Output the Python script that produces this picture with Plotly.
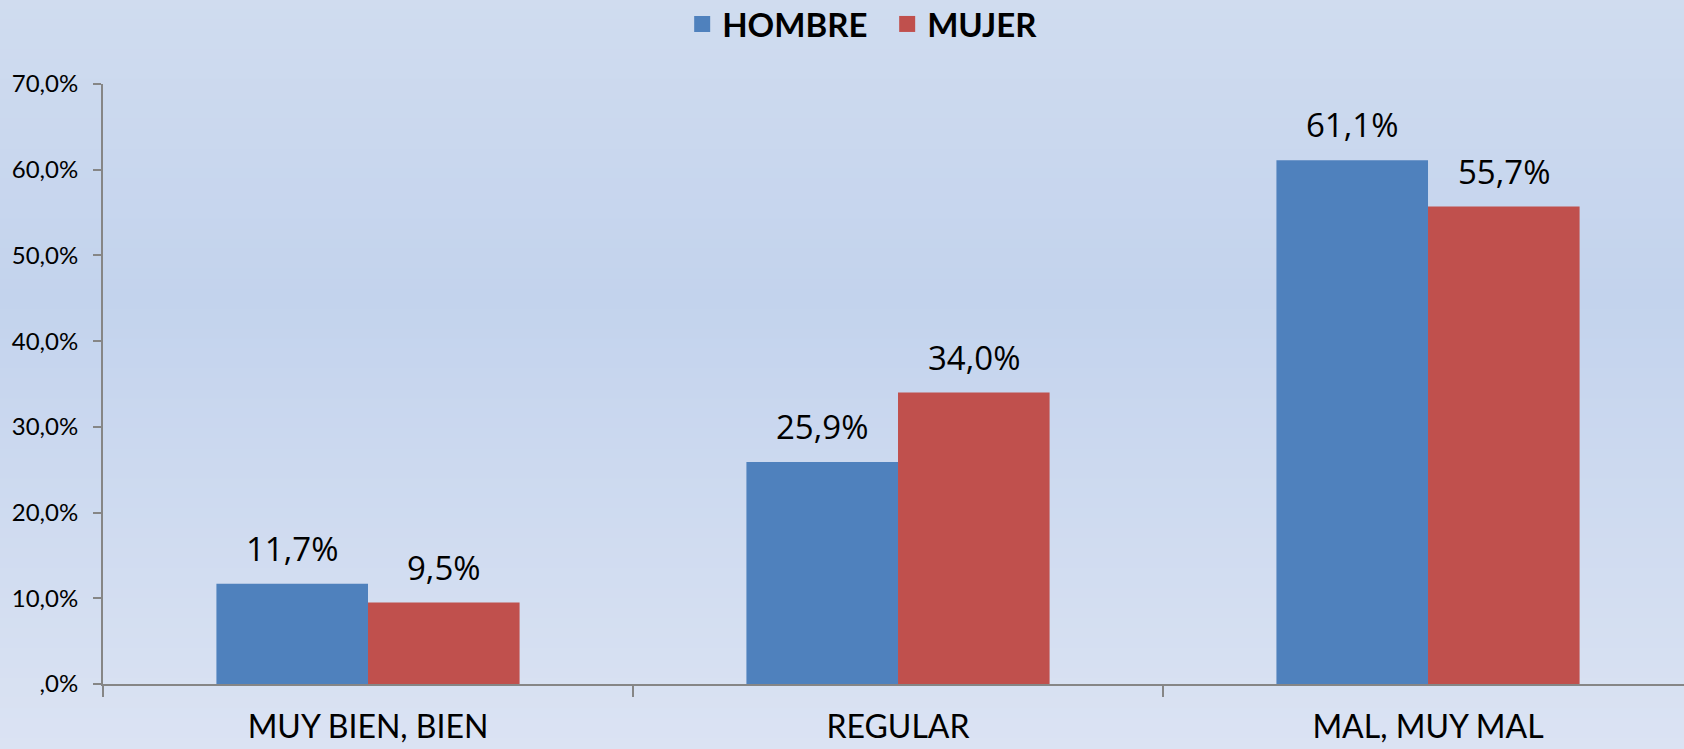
import plotly.graph_objects as go

categories = ["MUY BIEN, BIEN", "REGULAR", "MAL, MUY MAL"]
hombre = [11.7, 25.9, 61.1]
mujer = [9.5, 34.0, 55.7]
series_names = ["HOMBRE", "MUJER"]
colors = ["#4f81bd", "#c0504d"]
ytick_vals = [0, 10, 20, 30, 40, 50, 60, 70]
ytick_text = [",0%", "10,0%", "20,0%", "30,0%", "40,0%", "50,0%", "60,0%", "70,0%"]

W, H = 1684, 749
ML, MR, MT, MB = 103, 0, 84, 65
plot_h = H - MT - MB

def fmt(v):
    return f"{v:.1f}".replace(".", ",") + "%"

fig = go.Figure()
for name, vals, col in zip(series_names, [hombre, mujer], colors):
    fig.add_trace(go.Bar(
        name=name, x=categories, y=vals, showlegend=False,
        marker=dict(color=col, line=dict(width=0)),
    ))
# legend entries with larger square markers
for name, col in zip(series_names, colors):
    fig.add_trace(go.Scatter(
        name=name, x=[None], y=[None], mode="markers",
        marker=dict(symbol="square", size=20, color=col),
    ))

# gradient background as stacked shapes
stops = [(0, (208, 220, 239)), (300, (195, 211, 237)), (749, (219, 227, 243))]
def col_at(py):
    for (p0, c0), (p1, c1) in zip(stops[:-1], stops[1:]):
        if p0 <= py <= p1:
            t = (py - p0) / (p1 - p0)
            return tuple(round(a + (b - a) * t) for a, b in zip(c0, c1))
    return stops[-1][1]

shapes = []
n = 75
for i in range(n):
    py0 = H * i / n
    py1 = H * (i + 1) / n
    c = col_at((py0 + py1) / 2)
    shapes.append(dict(
        type="rect", xref="paper", yref="paper", layer="below",
        x0=-0.2, x1=1.2,
        y0=(H - MB - py1) / plot_h, y1=(H - MB - py0) / plot_h + 0.002,
        fillcolor=f"rgb({c[0]},{c[1]},{c[2]})", line=dict(width=0),
    ))

# data labels as annotations
bargap = 0.428
bw = (1 - bargap) / 2
annotations = []
for si, vals in enumerate([hombre, mujer]):
    off = -bw / 2 if si == 0 else bw / 2
    for ci, v in enumerate(vals):
        annotations.append(dict(
            x=ci + off, y=v, xref="x", yref="y", text=fmt(v),
            showarrow=False, yanchor="bottom", yshift=11,
            font=dict(family="Open Sans", size=33, color="#000000"),
        ))

fig.update_layout(
    width=W, height=H,
    margin=dict(l=ML, r=MR, t=MT, b=MB, autoexpand=False),
    paper_bgcolor="rgb(205,217,238)",
    plot_bgcolor="rgba(0,0,0,0)",
    barmode="group", bargap=bargap, bargroupgap=0,
    shapes=shapes, annotations=annotations,
    showlegend=True,
    legend=dict(
        orientation="h", x=0.496, xanchor="center", y=1.0 + (MT - 24) / plot_h, yanchor="middle",
        font=dict(family="Lato", size=33, color="#000000", weight="bold"),
        bgcolor="rgba(0,0,0,0)", itemsizing="trace", itemwidth=30, tracegroupgap=0,
        entrywidth=160,
    ),
    xaxis=dict(
        type="category", range=[-0.5, 2.483], automargin=False,
        showline=True, linecolor="#868686", linewidth=2,
        ticks="outside", tickson="boundaries", ticklen=11, tickcolor="#868686", tickwidth=2,
        tickfont=dict(family="Lato", size=32, color="#000000"),
        ticklabelstandoff=14,
        showgrid=False, zeroline=False,
    ),
    yaxis=dict(
        range=[0, 70], tickvals=ytick_vals, ticktext=ytick_text, automargin=False,
        showline=True, linecolor="#868686", linewidth=2,
        ticks="outside", ticklen=8, tickcolor="#868686", tickwidth=2,
        tickfont=dict(family="Lato", size=24, color="#000000"),
        ticklabelstandoff=10,
        showgrid=False, zeroline=False,
    ),
)

fig.write_html(
    "out.html",
    config={"displayModeBar": False},
    post_script="document.body.style.margin='0';document.body.style.overflow='hidden';",
)
